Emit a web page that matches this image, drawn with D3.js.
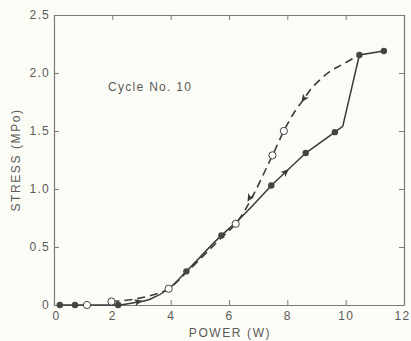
<!DOCTYPE html>
<html>
<head>
<meta charset="utf-8">
<script src="https://cdn.jsdelivr.net/npm/d3@7"></script>
<style>
  html, body { margin: 0; padding: 0; background: #fcfcf6; }
  svg { display: block; }
  text { font-family: "Liberation Sans", "DejaVu Sans", sans-serif; fill: #5a5a5a; }
</style>
</head>
<body>
<svg id="chart" width="411" height="341"></svg>
<script>
// ---- data ----
const xTicks = [0, 2, 4, 6, 8, 10, 12];
const yTicks = [0, 0.5, 1.0, 1.5, 2.0, 2.5];
const yTickLabels = ["0", "0.5", "1.0", "1.5", "2.0", "2.5"];

// heating (solid line) - filled points
const filledPower  = [0.2, 0.72, 2.2, 4.54, 5.74, 7.45, 8.63, 9.63, 10.47, 11.31];
const filledStress = [0.0, 0.0, 0.0, 0.29, 0.60, 1.03, 1.31, 1.49, 2.155, 2.19];

// cooling (dashed line) - open points
const openPower  = [1.13, 1.97, 3.93, 6.23, 7.49, 7.88];
const openStress = [0.0, 0.03, 0.14, 0.70, 1.29, 1.50];

// solid line path: smooth lower part, straight upper part
const solidLowPower  = [0.2, 2.2, 2.75, 3.29, 3.93, 4.54, 5.74, 6.23, 7.45];
const solidLowStress = [0.0, 0.0, 0.02, 0.05, 0.14, 0.29, 0.60, 0.71, 1.03];
const solidHighPower  = [7.45, 8.63, 9.63, 9.9, 10.47, 11.31];
const solidHighStress = [1.03, 1.31, 1.49, 1.54, 2.155, 2.19];

// dashed line path
const dashPower  = [1.97, 2.75, 3.29, 3.93, 4.54, 5.74, 6.23, 7.49, 7.88, 8.26, 8.58, 8.77, 9.07, 9.44, 9.86, 10.47];
const dashStress = [0.03, 0.05, 0.08, 0.14, 0.28, 0.58, 0.70, 1.29, 1.50, 1.67, 1.78, 1.85, 1.93, 2.01, 2.07, 2.155];

// arrows: position and direction (from -> to)
const arrows = [
  { from: [7.45, 1.03], to: [8.63, 1.31], at: 7.95 },
  { from: [2.75, 0.02], to: [3.29, 0.05], at: 2.9 },
  { from: [8.77, 1.85], to: [8.26, 1.67], at: 8.56 },
  { from: [7.49, 1.29], to: [6.23, 0.70], at: 6.7 }
];

// ---- layout ----
const svg = d3.select("#chart");
const x = d3.scaleLinear().domain([0, 12]).range([54, 404]);
const y = d3.scaleLinear().domain([0, 2.5]).range([305, 15]);

const axisColor = "#7a7a7a";
const lineColor = "#3a3a3a";

function styleAxis(g) {
  g.select(".domain").attr("stroke", axisColor).attr("stroke-width", 1.2);
  g.selectAll(".tick line").attr("stroke", axisColor).attr("stroke-width", 1);
  g.selectAll(".tick text")
    .style("font-size", "12px")
    .style("letter-spacing", "1.3px")
    .attr("fill", "#5a5a5a");
}

// bottom
svg.append("g").attr("transform", `translate(0,${y(0)})`)
  .call(d3.axisBottom(x).tickValues(xTicks).tickSize(-5).tickSizeOuter(0).tickPadding(6).tickFormat(d3.format("d")))
  .call(styleAxis)
  .call(g => g.selectAll(".tick text").filter(d => d === 12).attr("dx", "-2px"))
  .call(g => g.selectAll(".tick text").filter(d => d === 0).attr("dx", "2px"));
// top
svg.append("g").attr("transform", `translate(0,${y(2.5)})`)
  .call(d3.axisTop(x).tickValues(xTicks).tickSize(-5).tickSizeOuter(0).tickFormat(""))
  .call(styleAxis);
// left
svg.append("g").attr("transform", `translate(${x(0)},0)`)
  .call(d3.axisLeft(y).tickValues(yTicks).tickSize(-5).tickSizeOuter(0).tickPadding(4)
    .tickFormat((d, i) => yTickLabels[i]))
  .call(styleAxis);
// right
svg.append("g").attr("transform", `translate(${x(12)},0)`)
  .call(d3.axisRight(y).tickValues(yTicks).tickSize(-5).tickSizeOuter(0).tickFormat(""))
  .call(styleAxis);

// axis titles
svg.append("text")
  .attr("x", 230).attr("y", 337)
  .attr("text-anchor", "middle")
  .style("font-size", "12px").style("letter-spacing", "1.6px")
  .text("POWER (W)");
svg.append("text")
  .attr("transform", "translate(20,160) rotate(-90)")
  .attr("text-anchor", "middle")
  .style("font-size", "12px").style("letter-spacing", "1.6px")
  .text("STRESS (MPo)");

// annotation
svg.append("text")
  .attr("x", 108).attr("y", 91)
  .style("font-size", "12px").style("letter-spacing", "1.3px")
  .text("Cycle No. 10");

// ---- lines ----
const zip = (a, b) => a.map((v, i) => [v, b[i]]);
const lineSmooth = d3.line().x(d => x(d[0])).y(d => y(d[1])).curve(d3.curveMonotoneX);
const lineStraight = d3.line().x(d => x(d[0])).y(d => y(d[1]));

svg.append("path").datum(zip(dashPower, dashStress))
  .attr("d", lineSmooth).attr("fill", "none")
  .attr("stroke", lineColor).attr("stroke-width", 1.6)
  .attr("stroke-dasharray", "8,5");

svg.append("path").datum(zip(solidLowPower, solidLowStress))
  .attr("d", lineSmooth).attr("fill", "none")
  .attr("stroke", lineColor).attr("stroke-width", 1.5);
svg.append("path").datum(zip(solidHighPower, solidHighStress))
  .attr("d", lineStraight).attr("fill", "none")
  .attr("stroke", lineColor).attr("stroke-width", 1.5);

// arrows
arrows.forEach(a => {
  const [x0, y0] = [x(a.from[0]), y(a.from[1])];
  const [x1, y1] = [x(a.to[0]), y(a.to[1])];
  const t = (a.at - a.from[0]) / (a.to[0] - a.from[0]);
  const px = x0 + (x1 - x0) * t, py = y0 + (y1 - y0) * t;
  const ang = Math.atan2(y1 - y0, x1 - x0) * 180 / Math.PI;
  svg.append("path")
    .attr("d", "M4,0 L-4,-3.5 L-2,0 L-4,3.5 Z")
    .attr("transform", `translate(${px},${py}) rotate(${ang})`)
    .attr("fill", lineColor);
});

// ---- markers ----
svg.selectAll(".open").data(zip(openPower, openStress)).enter()
  .append("circle").attr("class", "open")
  .attr("cx", d => x(d[0])).attr("cy", d => y(d[1])).attr("r", 3.6)
  .attr("fill", "#ffffff").attr("stroke", "#444").attr("stroke-width", 1);

svg.selectAll(".filled").data(zip(filledPower, filledStress)).enter()
  .append("circle").attr("class", "filled")
  .attr("cx", d => x(d[0])).attr("cy", d => y(d[1])).attr("r", 3.2)
  .attr("fill", "#444");
</script>
</body>
</html>
